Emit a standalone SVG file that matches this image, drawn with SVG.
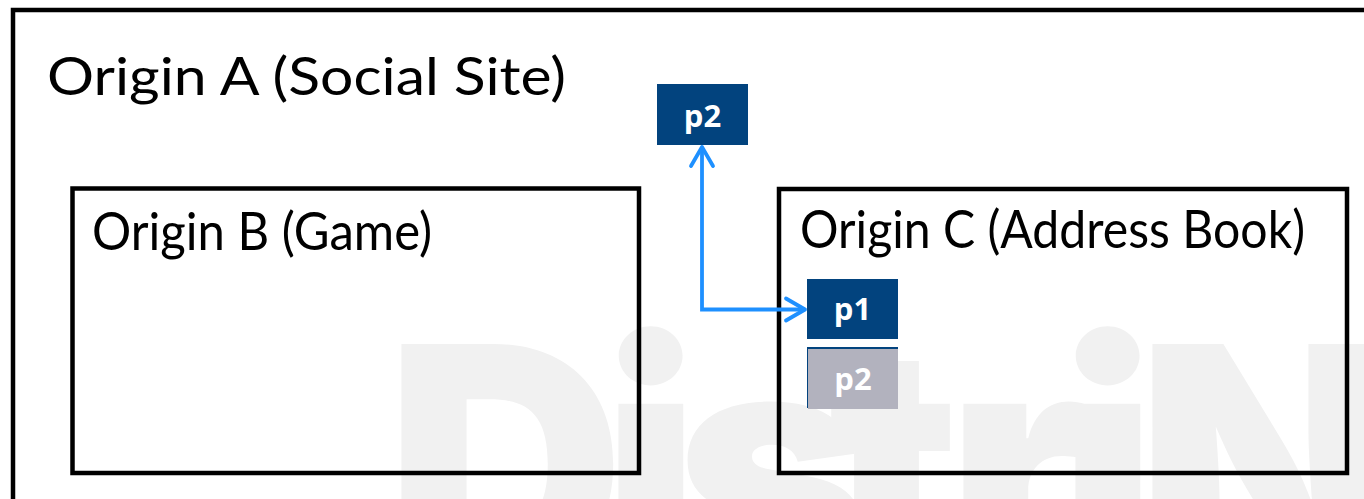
<svg xmlns="http://www.w3.org/2000/svg" width="1364" height="499" viewBox="0 0 1364 499">
  <style>
    .frame { fill: none; stroke: #000; stroke-width: 4.5; }
    .title { font-family: Lato, "Open Sans", "Liberation Sans", sans-serif; font-size: 53px; fill: #000; }
    .port { fill: #02437e; }
    .port-idle { fill: #b2b2be; }
    .plabel { font-family: "Open Sans", "Noto Sans", "Liberation Sans", sans-serif; font-weight: bold; font-size: 31px; fill: #fff; text-anchor: middle; }
    .mark { font-family: Inter, Lato, "DejaVu Sans", sans-serif; font-weight: 900; font-size: 330px; fill: #f1f1f1; }
    .link { fill: none; stroke: #1e90ff; stroke-width: 3.8; }
  </style>
  <defs>
    <marker id="chev" viewBox="-24 -14 28 28" markerWidth="28" markerHeight="28" refX="0" refY="0" markerUnits="userSpaceOnUse" orient="auto-start-reverse" overflow="visible">
      <path d="M -19 -11 L 0 0 L -19 11" fill="none" stroke="#1e90ff" stroke-width="3.8" stroke-linecap="round" stroke-linejoin="round"/>
    </marker>
  </defs>

  <rect width="1364" height="499" fill="#fff"/>

  <!-- background watermark -->
  <text class="mark" x="386 602 675 828 947 1059 1137" y="584">DistriN</text>

  <g id="origin-a">
    <rect class="frame" x="13" y="10" width="1400" height="600"/>
    <text class="title" x="47" y="95" textLength="519" lengthAdjust="spacingAndGlyphs">Origin A (Social Site)</text>
  </g>

  <g id="origin-b">
    <rect class="frame" x="72.5" y="188.5" width="566.5" height="284.5"/>
    <text class="title" x="92" y="250" textLength="340" lengthAdjust="spacingAndGlyphs">Origin B (Game)</text>
  </g>

  <g id="origin-c">
    <rect class="frame" x="779" y="189" width="568" height="284"/>
    <text class="title" x="800" y="248" textLength="505" lengthAdjust="spacingAndGlyphs">Origin C (Address Book)</text>
  </g>

  <g id="port-a-p2">
    <rect class="port" x="657" y="84" width="91" height="61"/>
    <text class="plabel" x="702.5" y="127">p2</text>
  </g>

  <g id="port-c-p1">
    <rect class="port" x="807" y="279" width="91" height="60"/>
    <text class="plabel" x="852.5" y="320">p1</text>
  </g>

  <g id="port-c-p2">
    <rect class="port" x="807" y="347" width="91" height="61"/>
    <rect class="port-idle" x="808" y="349" width="90" height="60"/>
    <text class="plabel" x="853" y="390">p2</text>
  </g>

  <g id="connectors">
    <path class="link" d="M 805 309.5 H 702 V 147" marker-start="url(#chev)" marker-end="url(#chev)"/>
  </g>
</svg>
